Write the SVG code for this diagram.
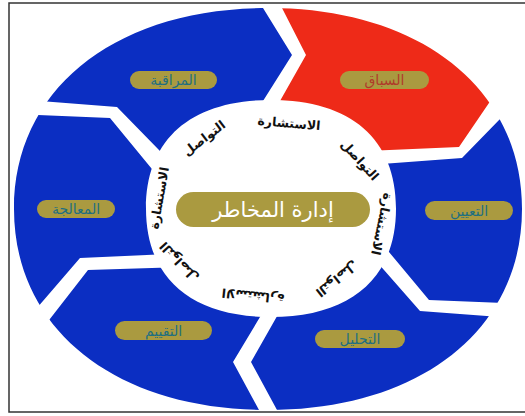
<svg xmlns="http://www.w3.org/2000/svg" width="525" height="416" viewBox="0 0 525 416">
<style>
.seg{fill:#0b2ec2}
.red{fill:#ee2a18}
.pill{fill:#aa9a40}
.pl{font-family:"DejaVu Sans",sans-serif;font-size:14px;fill:#1f6f80;text-anchor:middle;dominant-baseline:central}
.plr{fill:#b03a2a}
.cv{font-family:"DejaVu Sans",sans-serif;font-size:12.5px;font-weight:bold;fill:#111;text-anchor:middle;dominant-baseline:central}
.ct{font-family:"DejaVu Sans",sans-serif;font-size:21px;fill:#ffffff;text-anchor:middle;dominant-baseline:central}
</style>
<defs>
<clipPath id="ring">
<path clip-rule="evenodd" d="M522,209 C522,329.6 420.4,410 268,410 C115.6,410 14,329.6 14,209 C14,88.4 115.6,8 268,8 C420.4,8 522,88.4 522,209 Z M396,208.5 C396,278 351,317 271,317 C191,317 146,278 146,208.5 C146,139 191,100 271,100 C351,100 396,139 396,208.5 Z"/>
</clipPath>
</defs>
<rect x="0" y="0" width="525" height="416" fill="#fff"/>
<rect x="9" y="3" width="530" height="409" fill="#fff" stroke="#333" stroke-width="1.5"/>
<g id="n-muraqaba">
<path class="seg" clip-path="url(#ring)" d="M189,180.8 L117,107 L14.6,99 L-92.5,68.5 L40.6,-62.3 L214.3,-118.8 L245.6,-20.2 L292,55 L239.8,137.8 L270,208 Z"/>
<rect class="pill" x="130" y="71" width="87" height="18" rx="9"/>
<text class="pl" x="173.5" y="80">المراقبة</text>
</g>
<g id="n-sebaq">
<path class="red" clip-path="url(#ring)" d="M259.2,137.8 L306,55 L267.6,-20.2 L304.9,-120.7 L527.1,-44.8 L632.5,68.5 L507,76.6 L459,147 L331.2,152.4 L270,208 Z"/>
<rect class="pill" x="340" y="71" width="89" height="18" rx="9"/>
<text class="pl plr" x="384.5" y="80">السباق</text>
</g>
<g id="n-taayin">
<path class="seg" clip-path="url(#ring)" d="M341.4,167 L462,158 L526,92.4 L645.9,95.1 L645.9,320.9 L545.8,304.8 L429,300 L366,224.4 L270,208 Z"/>
<rect class="pill" x="425" y="201" width="88" height="19" rx="9.5"/>
<text class="pl" x="469" y="210.5">التعيين</text>
</g>
<g id="n-tahlil">
<path class="seg" clip-path="url(#ring)" d="M355.2,237.2 L420,311 L527.2,319 L616.4,373 L470,493.8 L284,537.8 L292.6,438.8 L251,362 L296,282.8 L270,208 Z"/>
<rect class="pill" x="315" y="330" width="90" height="18" rx="9"/>
<text class="pl" x="360" y="339">التحليل</text>
</g>
<g id="n-taqyim">
<path class="seg" clip-path="url(#ring)" d="M281.6,281 L233,362 L274.6,438.8 L235.1,536.7 L40.6,478.3 L-76.4,373 L32,342 L88,270 L199.6,266.4 L270,208 Z"/>
<rect class="pill" x="115" y="321" width="97" height="19" rx="9.5"/>
<text class="pl" x="163.5" y="330.5">التقييم</text>
</g>
<g id="n-moaalaja">
<path class="seg" clip-path="url(#ring)" d="M200.6,252.6 L80,258 L20.8,326.8 L-105.9,320.9 L-105.9,95.1 L-6.8,113.2 L110,118 L176.6,199 L270,208 Z"/>
<rect class="pill" x="37" y="200" width="78" height="18" rx="9"/>
<text class="pl" x="76" y="209">المعالجة</text>
</g>
<g id="n-center">
<rect class="pill" x="176" y="192" width="194" height="35" rx="17.5"/>
<text class="ct" x="273" y="209.5">إدارة المخاطر</text>
</g>
<g id="connectors">
<text class="cv" transform="translate(289,123) rotate(5)">الاستشارة</text>
<text class="cv" transform="translate(204,138) rotate(-37)">التواصل</text>
<text class="cv" transform="translate(360,160) rotate(48)">التواصل</text>
<text class="cv" transform="translate(382,224) rotate(102)">الاستشارة</text>
<text class="cv" transform="translate(337,279) rotate(142)">التواصل</text>
<text class="cv" transform="translate(253,296) rotate(186)">الاستشارة</text>
<text class="cv" transform="translate(179,262) rotate(227)">التواصل</text>
<text class="cv" transform="translate(159,198) rotate(-80)">الاستشارة</text>
</g>
</svg>
